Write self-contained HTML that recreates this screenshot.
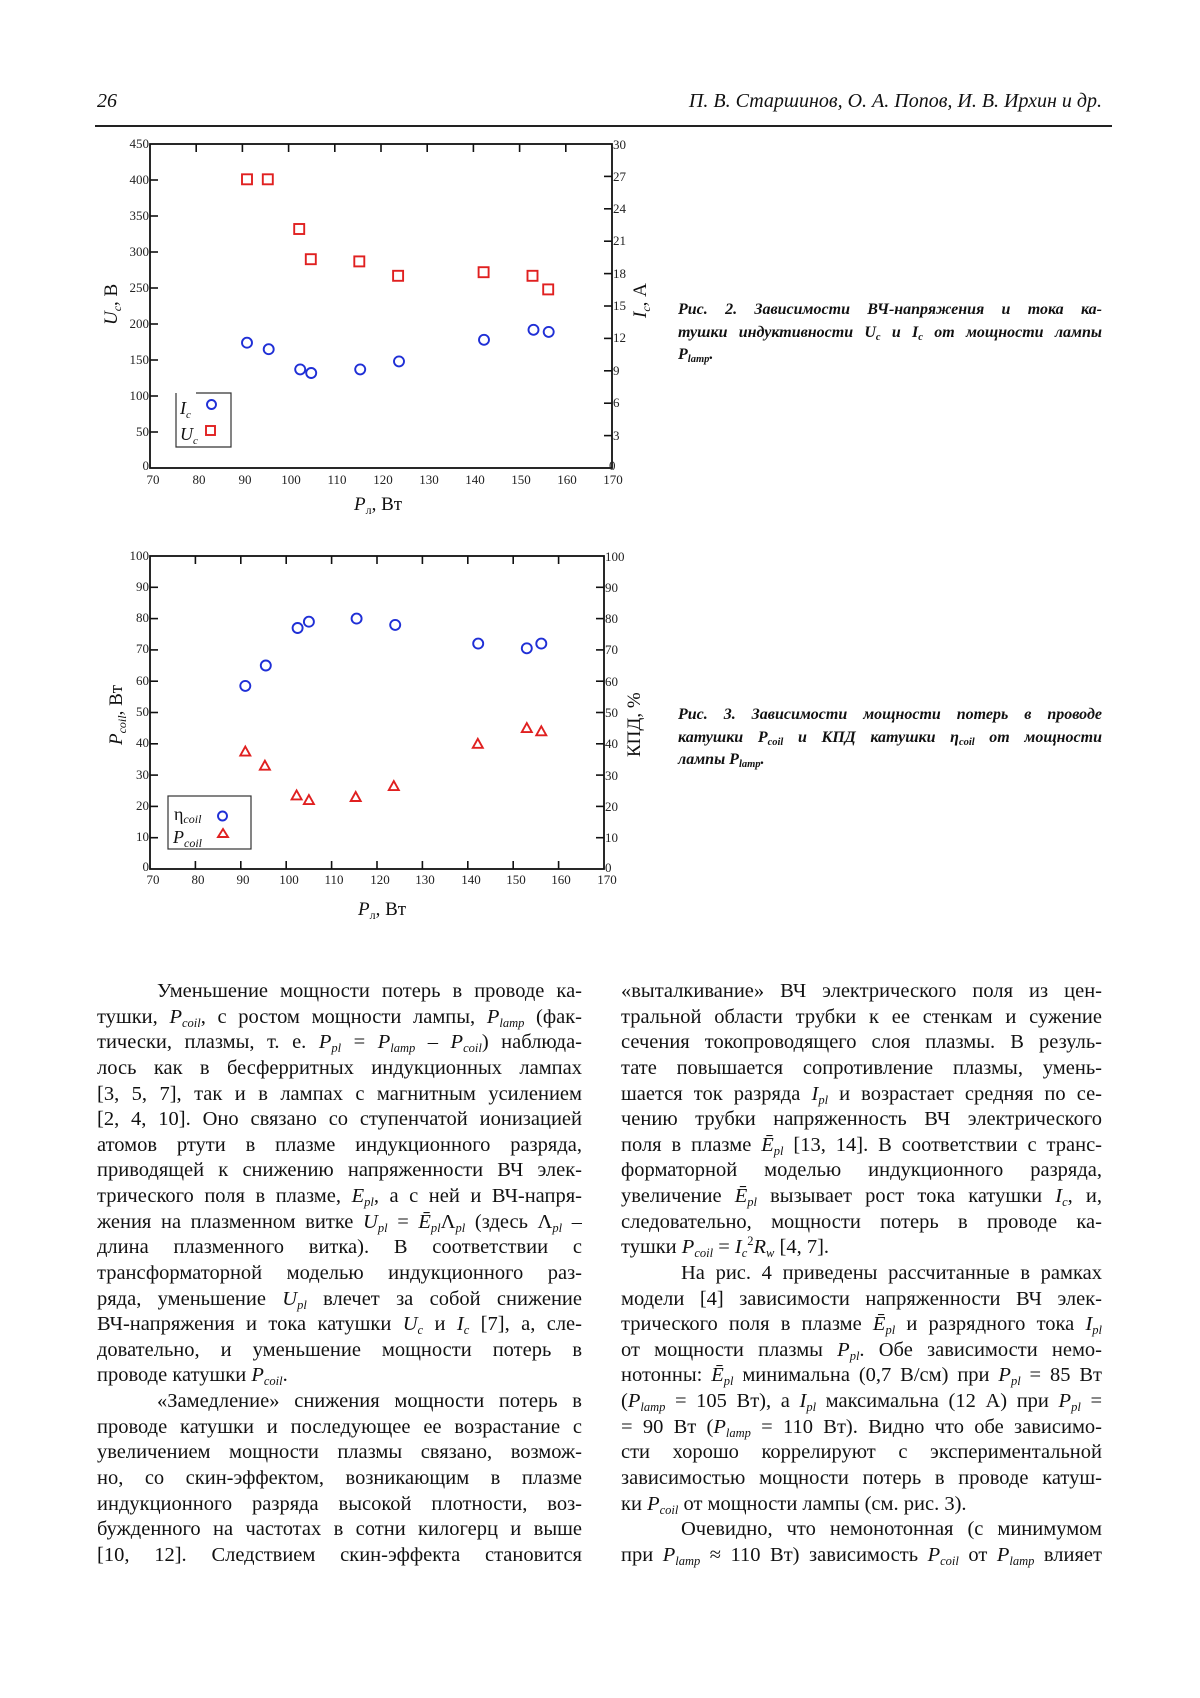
<!DOCTYPE html>
<html><head><meta charset="utf-8"><style>
body{margin:0;background:#fff;}
#pg{position:relative;width:1200px;height:1698px;overflow:hidden;background:#fff;font-family:"Liberation Serif",serif;color:#111;}
.col{position:absolute;top:979px;font-size:20.5px;line-height:25.64px;}
.l{height:25.64px;text-align:justify;text-align-last:justify;overflow:hidden;}
.e{text-align:left;text-align-last:left;}
.in{text-indent:60px;}
sub{font-size:12.5px;line-height:0;vertical-align:-4px;}
sup{font-size:12.5px;line-height:0;vertical-align:8px;}
.cap{position:absolute;left:678px;width:424px;font-size:16px;font-weight:bold;font-style:italic;line-height:22.5px;}
.cap div{text-align:justify;text-align-last:justify;height:22.5px;}
.cap sub{font-size:10.5px;vertical-align:-3px;}
</style></head><body><div id="pg">
<div style="position:absolute;left:97px;top:90px;font-size:20px;font-style:italic;">26</div>
<div style="position:absolute;right:98px;top:90px;font-size:20px;font-style:italic;">П. В. Старшинов, О. А. Попов, И. В. Ирхин и др.</div>
<div style="position:absolute;left:95px;top:125px;width:1017px;height:1.5px;background:#222;"></div>

<svg width="1200" height="1698" style="position:absolute;left:0;top:0" font-family="Liberation Serif, serif">
<g stroke="#111" fill="none">
<rect x="150" y="144" width="462" height="324" stroke-width="1.8"/>
<rect x="150" y="556" width="454" height="313" stroke-width="1.8"/>
</g>
<g stroke="#111" stroke-width="1.6">
<line x1="196.2" y1="144" x2="196.2" y2="152"/><line x1="242.4" y1="144" x2="242.4" y2="152"/><line x1="288.6" y1="144" x2="288.6" y2="152"/><line x1="334.8" y1="144" x2="334.8" y2="152"/><line x1="381" y1="144" x2="381" y2="152"/><line x1="427.2" y1="144" x2="427.2" y2="152"/><line x1="473.4" y1="144" x2="473.4" y2="152"/><line x1="519.6" y1="144" x2="519.6" y2="152"/><line x1="565.8" y1="144" x2="565.8" y2="152"/>
<line x1="150" y1="180" x2="158" y2="180"/><line x1="150" y1="216" x2="158" y2="216"/><line x1="150" y1="252" x2="158" y2="252"/><line x1="150" y1="288" x2="158" y2="288"/><line x1="150" y1="324" x2="158" y2="324"/><line x1="150" y1="360" x2="158" y2="360"/><line x1="150" y1="396" x2="158" y2="396"/><line x1="150" y1="432" x2="158" y2="432"/>
<line x1="604" y1="176.4" x2="612" y2="176.4"/><line x1="604" y1="208.8" x2="612" y2="208.8"/><line x1="604" y1="241.2" x2="612" y2="241.2"/><line x1="604" y1="273.6" x2="612" y2="273.6"/><line x1="604" y1="306" x2="612" y2="306"/><line x1="604" y1="338.4" x2="612" y2="338.4"/><line x1="604" y1="370.8" x2="612" y2="370.8"/><line x1="604" y1="403.2" x2="612" y2="403.2"/><line x1="604" y1="435.6" x2="612" y2="435.6"/>
<line x1="195.4" y1="556" x2="195.4" y2="564"/><line x1="240.8" y1="556" x2="240.8" y2="564"/><line x1="286.2" y1="556" x2="286.2" y2="564"/><line x1="331.6" y1="556" x2="331.6" y2="564"/><line x1="377" y1="556" x2="377" y2="564"/><line x1="422.4" y1="556" x2="422.4" y2="564"/><line x1="467.8" y1="556" x2="467.8" y2="564"/><line x1="513.2" y1="556" x2="513.2" y2="564"/><line x1="558.6" y1="556" x2="558.6" y2="564"/>
<line x1="195.4" y1="869" x2="195.4" y2="861"/><line x1="240.8" y1="869" x2="240.8" y2="861"/><line x1="286.2" y1="869" x2="286.2" y2="861"/><line x1="331.6" y1="869" x2="331.6" y2="861"/><line x1="377" y1="869" x2="377" y2="861"/><line x1="422.4" y1="869" x2="422.4" y2="861"/><line x1="467.8" y1="869" x2="467.8" y2="861"/><line x1="513.2" y1="869" x2="513.2" y2="861"/><line x1="558.6" y1="869" x2="558.6" y2="861"/>
<line x1="150" y1="837.7" x2="158" y2="837.7"/><line x1="150" y1="806.4" x2="158" y2="806.4"/><line x1="150" y1="775.1" x2="158" y2="775.1"/><line x1="150" y1="743.8" x2="158" y2="743.8"/><line x1="150" y1="712.5" x2="158" y2="712.5"/><line x1="150" y1="681.2" x2="158" y2="681.2"/><line x1="150" y1="649.9" x2="158" y2="649.9"/><line x1="150" y1="618.6" x2="158" y2="618.6"/><line x1="150" y1="587.3" x2="158" y2="587.3"/>
<line x1="596" y1="837.7" x2="604" y2="837.7"/><line x1="596" y1="806.4" x2="604" y2="806.4"/><line x1="596" y1="775.1" x2="604" y2="775.1"/><line x1="596" y1="743.8" x2="604" y2="743.8"/><line x1="596" y1="712.5" x2="604" y2="712.5"/><line x1="596" y1="681.2" x2="604" y2="681.2"/><line x1="596" y1="649.9" x2="604" y2="649.9"/><line x1="596" y1="618.6" x2="604" y2="618.6"/><line x1="596" y1="587.3" x2="604" y2="587.3"/>
</g>
<g font-size="13" fill="#222">
<g text-anchor="end">
<text x="149" y="148">450</text><text x="149" y="184">400</text><text x="149" y="220">350</text><text x="149" y="256">300</text><text x="149" y="292">250</text><text x="149" y="328">200</text><text x="149" y="364">150</text><text x="149" y="400">100</text><text x="149" y="436">50</text><text x="149" y="470">0</text>
<text x="149" y="560">100</text><text x="149" y="591">90</text><text x="149" y="622">80</text><text x="149" y="653">70</text><text x="149" y="685">60</text><text x="149" y="716">50</text><text x="149" y="747">40</text><text x="149" y="779">30</text><text x="149" y="810">20</text><text x="149" y="841">10</text><text x="149" y="871">0</text>
</g>
<g>
<text x="613" y="149">30</text><text x="613" y="181">27</text><text x="613" y="213">24</text><text x="613" y="245">21</text><text x="613" y="278">18</text><text x="613" y="310">15</text><text x="613" y="342">12</text><text x="613" y="375">9</text><text x="613" y="407">6</text><text x="613" y="440">3</text><text x="609" y="470">0</text>
<text x="605" y="561">100</text><text x="605" y="592">90</text><text x="605" y="623">80</text><text x="605" y="654">70</text><text x="605" y="686">60</text><text x="605" y="717">50</text><text x="605" y="748">40</text><text x="605" y="780">30</text><text x="605" y="811">20</text><text x="605" y="842">10</text><text x="605" y="872">0</text>
</g>
<g text-anchor="middle">
<text x="153" y="484">70</text><text x="199" y="484">80</text><text x="245" y="484">90</text><text x="291" y="484">100</text><text x="337" y="484">110</text><text x="383" y="484">120</text><text x="429" y="484">130</text><text x="475" y="484">140</text><text x="521" y="484">150</text><text x="567" y="484">160</text><text x="613" y="484">170</text>
<text x="153" y="884">70</text><text x="198" y="884">80</text><text x="243" y="884">90</text><text x="289" y="884">100</text><text x="334" y="884">110</text><text x="380" y="884">120</text><text x="425" y="884">130</text><text x="471" y="884">140</text><text x="516" y="884">150</text><text x="561" y="884">160</text><text x="607" y="884">170</text>
</g>
</g>
<g font-size="19" fill="#111">
<text x="354" y="510"><tspan font-style="italic">P</tspan><tspan font-size="12" dy="4">л</tspan><tspan dy="-4">, Вт</tspan></text>
<text x="358" y="915"><tspan font-style="italic">P</tspan><tspan font-size="12" dy="4">л</tspan><tspan dy="-4">, Вт</tspan></text>
<text transform="translate(117,325) rotate(-90)"><tspan font-style="italic">U</tspan><tspan font-size="12" font-style="italic" dy="4">c</tspan><tspan dy="-4">, В</tspan></text>
<text transform="translate(646,318) rotate(-90)"><tspan font-style="italic">I</tspan><tspan font-size="12" font-style="italic" dy="4">c</tspan><tspan dy="-4">, А</tspan></text>
<text transform="translate(122,745) rotate(-90)"><tspan font-style="italic">P</tspan><tspan font-size="12" font-style="italic" dy="4">coil</tspan><tspan dy="-4">, Вт</tspan></text>
<text transform="translate(640,757) rotate(-90)">КПД, %</text>
</g>
<g stroke="#333" stroke-width="1.2" fill="none">
<path d="M176 393 V447 H231 V393 H196"/>
<rect x="168" y="796" width="83" height="53"/>
</g>
<g font-size="18" font-style="italic" fill="#111">
<text x="180" y="414">I<tspan font-size="11" dy="4">c</tspan></text>
<text x="180" y="440">U<tspan font-size="11" dy="4">c</tspan></text>
<text x="174" y="820" font-style="normal">η<tspan font-size="12" font-style="italic" dy="3">coil</tspan></text>
<text x="173" y="843">P<tspan font-size="12" dy="4">coil</tspan></text>
</g>
<g fill="none" stroke="#1f2fd6" stroke-width="1.9">
<circle cx="211.5" cy="404.5" r="4.5"/>
<circle cx="222.5" cy="816" r="4.5"/>
<circle cx="247" cy="342.7" r="5"/><circle cx="268.7" cy="349.2" r="5"/><circle cx="300.2" cy="369.4" r="5"/><circle cx="311.2" cy="373" r="5"/><circle cx="360.2" cy="369.4" r="5"/><circle cx="399" cy="361.4" r="5"/><circle cx="484" cy="339.8" r="5"/><circle cx="533.5" cy="329.8" r="5"/><circle cx="548.7" cy="331.9" r="5"/>
<circle cx="245.3" cy="685.9" r="5"/><circle cx="265.8" cy="665.5" r="5"/><circle cx="297.6" cy="628" r="5"/><circle cx="308.9" cy="621.7" r="5"/><circle cx="356.6" cy="618.6" r="5"/><circle cx="395.2" cy="624.9" r="5"/><circle cx="478.2" cy="643.6" r="5"/><circle cx="526.8" cy="648.3" r="5"/><circle cx="541.3" cy="643.6" r="5"/>
</g>
<g fill="none" stroke="#e02020" stroke-width="1.9">
<rect x="206" y="426" width="9" height="9"/>
<path d="M223 829 L228 837 L218 837 Z"/>
<rect x="242" y="174.3" width="10" height="10"/><rect x="262.8" y="174.3" width="10" height="10"/><rect x="294.2" y="224" width="10" height="10"/><rect x="305.8" y="254.2" width="10" height="10"/><rect x="354.3" y="256.4" width="10" height="10"/><rect x="393.1" y="270.8" width="10" height="10"/><rect x="478.6" y="267.2" width="10" height="10"/><rect x="527.5" y="270.8" width="10" height="10"/><rect x="543.2" y="284.4" width="10" height="10"/>
<path d="M245.3 746.6 L250.3 755.6 L240.3 755.6 Z"/>
<path d="M264.9 760.7 L269.9 769.7 L259.9 769.7 Z"/>
<path d="M296.6 790.4 L301.6 799.4 L291.6 799.4 Z"/>
<path d="M308.9 795.1 L313.9 804.1 L303.9 804.1 Z"/>
<path d="M355.7 792 L360.7 801 L350.7 801 Z"/>
<path d="M393.8 781.1 L398.8 790.1 L388.8 790.1 Z"/>
<path d="M477.8 738.8 L482.8 747.8 L472.8 747.8 Z"/>
<path d="M526.8 723.1 L531.8 732.1 L521.8 732.1 Z"/>
<path d="M541.3 726.3 L546.3 735.3 L536.3 735.3 Z"/>
</g>
</svg>

<div class="cap" style="top:299px;">
<div>Рис. 2. Зависимости ВЧ-напряжения и тока ка-</div>
<div>тушки индуктивности U<sub>c</sub> и I<sub>c</sub> от мощности лампы</div>
<div style="text-align-last:left">P<sub>lamp</sub>.</div>
</div>
<div class="cap" style="top:704px;">
<div>Рис. 3. Зависимости мощности потерь в проводе</div>
<div>катушки P<sub>coil</sub> и КПД катушки η<sub>coil</sub> от мощности</div>
<div style="text-align-last:left">лампы P<sub>lamp</sub>.</div>
</div>

<div class="col" style="left:97px;width:485px;">
<div class="l in">Уменьшение мощности потерь в проводе ка-</div>
<div class="l">тушки, <i>P</i><sub><i>coil</i></sub>, с ростом мощности лампы, <i>P</i><sub><i>lamp</i></sub> (фак-</div>
<div class="l">тически, плазмы, т. е. <i>P</i><sub><i>pl</i></sub> = <i>P</i><sub><i>lamp</i></sub> – <i>P</i><sub><i>coil</i></sub>) наблюда-</div>
<div class="l">лось как в бесферритных индукционных лампах</div>
<div class="l">[3, 5, 7], так и в лампах с магнитным усилением</div>
<div class="l">[2, 4, 10]. Оно связано со ступенчатой ионизацией</div>
<div class="l">атомов ртути в плазме индукционного разряда,</div>
<div class="l">приводящей к снижению напряженности ВЧ элек-</div>
<div class="l">трического поля в плазме, <i>E</i><sub><i>pl</i></sub>, а с ней и ВЧ-напря-</div>
<div class="l">жения на плазменном витке <i>U</i><sub><i>pl</i></sub> = <i>E&#772;</i><sub><i>pl</i></sub>Λ<sub><i>pl</i></sub> (здесь Λ<sub><i>pl</i></sub> –</div>
<div class="l">длина плазменного витка). В соответствии с</div>
<div class="l">трансформаторной моделью индукционного раз-</div>
<div class="l">ряда, уменьшение <i>U</i><sub><i>pl</i></sub> влечет за собой снижение</div>
<div class="l">ВЧ-напряжения и тока катушки <i>U</i><sub><i>c</i></sub> и <i>I</i><sub><i>c</i></sub> [7], а, сле-</div>
<div class="l">довательно, и уменьшение мощности потерь в</div>
<div class="l e">проводе катушки <i>P</i><sub><i>coil</i></sub>.</div>
<div class="l in">«Замедление» снижения мощности потерь в</div>
<div class="l">проводе катушки и последующее ее возрастание с</div>
<div class="l">увеличением мощности плазмы связано, возмож-</div>
<div class="l">но, со скин-эффектом, возникающим в плазме</div>
<div class="l">индукционного разряда высокой плотности, воз-</div>
<div class="l">бужденного на частотах в сотни килогерц и выше</div>
<div class="l">[10, 12]. Следствием скин-эффекта становится</div>
</div>

<div class="col" style="left:621px;width:481px;">
<div class="l">«выталкивание» ВЧ электрического поля из цен-</div>
<div class="l">тральной области трубки к ее стенкам и сужение</div>
<div class="l">сечения токопроводящего слоя плазмы. В резуль-</div>
<div class="l">тате повышается сопротивление плазмы, умень-</div>
<div class="l">шается ток разряда <i>I</i><sub><i>pl</i></sub> и возрастает средняя по се-</div>
<div class="l">чению трубки напряженность ВЧ электрического</div>
<div class="l">поля в плазме <i>E&#772;</i><sub><i>pl</i></sub> [13, 14]. В соответствии с транс-</div>
<div class="l">форматорной моделью индукционного разряда,</div>
<div class="l">увеличение <i>E&#772;</i><sub><i>pl</i></sub> вызывает рост тока катушки <i>I</i><sub><i>c</i></sub>, и,</div>
<div class="l">следовательно, мощности потерь в проводе ка-</div>
<div class="l e">тушки <i>P</i><sub><i>coil</i></sub> = <i>I</i><sub><i>c</i></sub><sup>2</sup><i>R</i><sub><i>w</i></sub> [4, 7].</div>
<div class="l in">На рис. 4 приведены рассчитанные в рамках</div>
<div class="l">модели [4] зависимости напряженности ВЧ элек-</div>
<div class="l">трического поля в плазме <i>E&#772;</i><sub><i>pl</i></sub> и разрядного тока <i>I</i><sub><i>pl</i></sub></div>
<div class="l">от мощности плазмы <i>P</i><sub><i>pl</i></sub>. Обе зависимости немо-</div>
<div class="l">нотонны: <i>E&#772;</i><sub><i>pl</i></sub> минимальна (0,7 В/см) при <i>P</i><sub><i>pl</i></sub> = 85 Вт</div>
<div class="l">(<i>P</i><sub><i>lamp</i></sub> = 105 Вт), а <i>I</i><sub><i>pl</i></sub> максимальна (12 А) при <i>P</i><sub><i>pl</i></sub> =</div>
<div class="l">= 90 Вт (<i>P</i><sub><i>lamp</i></sub> = 110 Вт). Видно что обе зависимо-</div>
<div class="l">сти хорошо коррелируют с экспериментальной</div>
<div class="l">зависимостью мощности потерь в проводе катуш-</div>
<div class="l e">ки <i>P</i><sub><i>coil</i></sub> от мощности лампы (см. рис. 3).</div>
<div class="l in">Очевидно, что немонотонная (с минимумом</div>
<div class="l">при <i>P</i><sub><i>lamp</i></sub> ≈ 110 Вт) зависимость <i>P</i><sub><i>coil</i></sub> от <i>P</i><sub><i>lamp</i></sub> влияет</div>
</div>
</div></body></html>
